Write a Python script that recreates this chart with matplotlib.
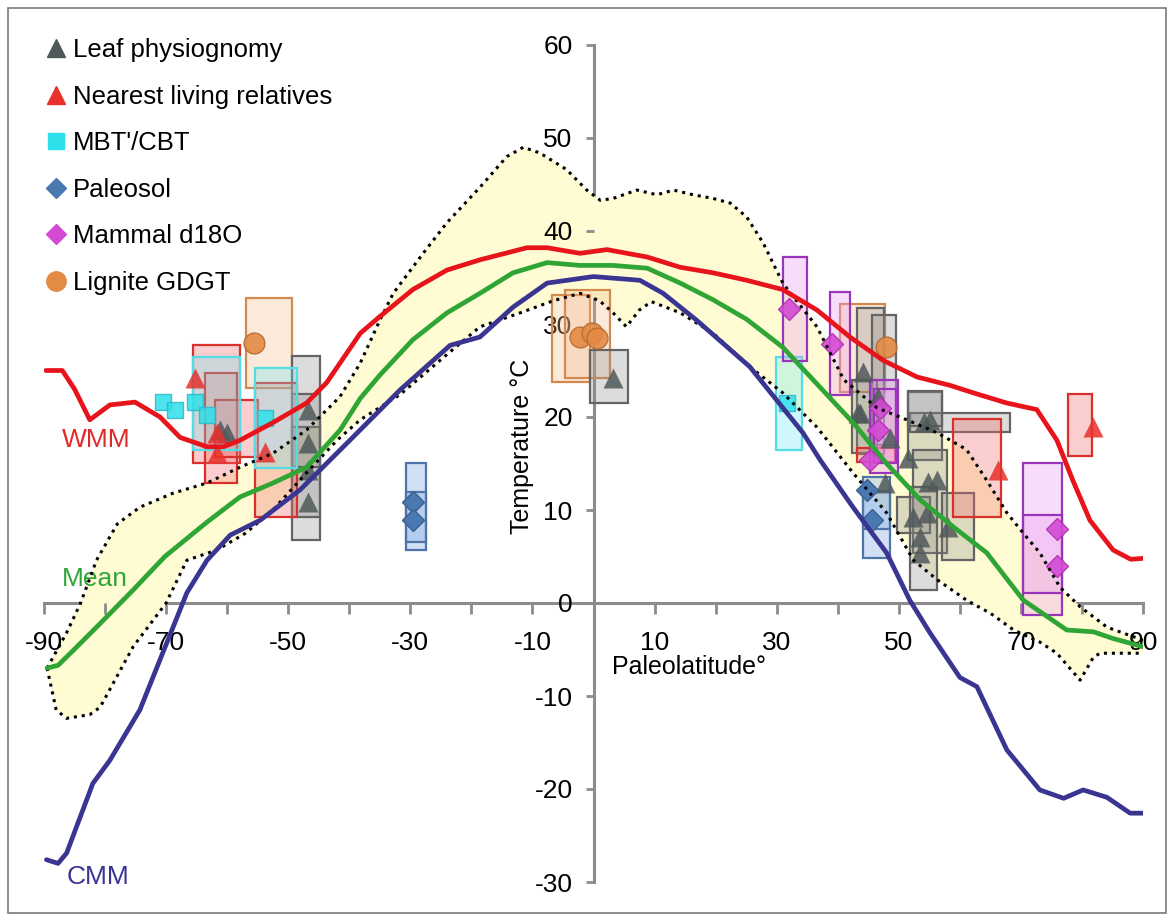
import numpy as np
import matplotlib
matplotlib.use("Agg")
import matplotlib.pyplot as plt
from matplotlib.patches import Rectangle
from matplotlib.lines import Line2D

plt.rcParams['font.family'] = ['Liberation Sans', 'DejaVu Sans']
plt.rcParams['axes.unicode_minus'] = False

# --- model curves (paleolatitude, temperature) ---
wmm_lat = [-89.7, -87, -85, -82.5, -79.2, -75.1, -71, -67.7, -63.3, -60.6, -57.9, -52.5, -47, -43.7,
           -38.2, -35, -29.6, -24, -18.6, -10.9, -7.6, -2.2, 2.2, 8.8, 14.2, 19.6, 25.1, 31, 36.6,
           42, 47.4, 53, 58.4, 62.2, 67.7, 72.6, 75.9, 78.5, 81.3, 85.1, 88, 90]
wmm_t = [25, 25, 23, 19.7, 21.3, 21.6, 20, 17.8, 16.8, 16.8, 17.5, 19.4, 21.5, 23.7,
         29, 30.8, 33.7, 35.8, 36.9, 38.2, 38.2, 37.6, 38, 37.2, 36.1, 35.5, 34.7, 33.7, 31.5,
         28.6, 26.1, 24.3, 23.4, 22.6, 21.5, 20.8, 17.5, 13.2, 8.9, 5.7, 4.7, 4.8]

mean_lat = [-89.5, -87.7, -84.6, -80.8, -75.4, -70.2, -63.3, -57.9, -52.5, -47, -41.5, -38.2, -35,
            -29.6, -24, -18.6, -13.2, -7.6, -2.2, 3.2, 8.8, 14.2, 19.6, 25.1, 31, 37.1, 42.5, 48,
            53.5, 58.9, 64.4, 70.4, 77.5, 81.9, 85, 90]
mean_t = [-7, -6.7, -4.7, -2.2, 1.4, 5, 8.7, 11.4, 12.9, 14.6, 18.6, 22, 24.5,
          28.3, 31.2, 33.3, 35.5, 36.6, 36.3, 36.3, 36, 34.4, 32.6, 30.5, 27.5, 23.2, 19.4, 15,
          11.1, 8.2, 5.4, 0.3, -2.9, -3.1, -3.8, -4.7]

cmm_lat = [-89.6, -87.7, -86.3, -82, -79.2, -74.3, -69.9, -66.6, -63.3, -59.5, -54.6, -48, -39.9,
           -31.7, -23.5, -18.6, -13.2, -7.6, 0, 7.6, 11.4, 16.9, 25.6, 34.3, 37.1, 42.5, 48, 51.8,
           55.1, 60, 62.8, 67.7, 73.1, 77, 80.2, 84.1, 87.9, 90]
cmm_t = [-27.6, -28, -26.9, -19.4, -16.9, -11.5, -4.3, 1.1, 4.6, 7.3, 8.9, 12.2, 17.5,
         22.9, 27.7, 28.6, 31.8, 34.4, 35.1, 34.7, 33.3, 30.4, 25.4, 18.3, 15.4, 10.3, 5.4, 0.3,
         -3.2, -8, -9, -15.8, -20.1, -21, -20.1, -20.9, -22.6, -22.6]

# model range envelope
upper_lat = [-89.5, -86.3, -84, -81.4, -78, -74.3, -68.9, -63.3, -57.9, -52.5, -47, -41.5, -38.2,
             -35, -32.8, -27.9, -24, -18.6, -14.2, -11.5, -8.8, -4.4, -1.1, 1.1, 3.2, 7.1, 10.4,
             13.1, 16.3, 19.6, 22.4, 25.1, 27.8, 31, 36.6, 41, 46.4, 51.3, 56.3, 61.1, 64.4, 67.7,
             70.4, 73.1, 76.4, 79.7, 84.1, 90]
upper_t = [-7, -3.2, 0, 4.6, 8.5, 10.3, 11.8, 12.9, 14.6, 16.1, 18.6, 22.2, 25.8,
           30.4, 33.3, 37.6, 40.9, 44.7, 48, 49, 48.4, 46.6, 44.4, 43.3, 43.5, 44.4, 43.9,
           44.4, 43.9, 43.5, 43, 41.5, 38.7, 34.4, 29.7, 24, 21, 19.7, 18.3, 16.5, 13.2, 9.7,
           7.5, 5.4, 1.7, -0.4, -2.6, -4]
lower_lat = [-89.5, -88, -86.3, -82.5, -80.8, -75.4, -70, -66.6, -61.7, -57, -52.5, -47, -42,
             -38.2, -31.7, -23.5, -18.6, -12, -6.6, -2.2, 1, 3.2, 5.4, 7.5, 9.5, 14.2, 19.6,
             25.6, 31, 36.6, 42.5, 48, 52.4, 56.3, 61.1, 65, 68.8, 73.1, 75.9, 79.7, 81.9, 83, 90]
lower_t = [-7, -11.5, -12.4, -12, -11.2, -4.7, 0, 4.6, 5.7, 7.5, 10, 14, 17.5,
           19.7, 22.4, 27, 29.7, 31.2, 32.5, 33.3, 32.5, 31.2, 29.7, 31.5, 32.4, 31.2, 29,
           25.4, 22.6, 18.9, 14, 9.7, 4.6, 2.5, 0.3, -1.1, -2.9, -4.2, -5.4, -8.3, -5.8, -5.4, -5.4]

# --- proxy estimates: boxes (lat_lo, lat_hi, t_lo, t_hi) and points ---
leaf_boxes = [(-49.4, -44.8, 6.8, 26.6), (-49.4, -44.8, 9.2, 18.9), (-49.4, -44.8, 14.6, 22.5),
              (-0.6, 5.6, 21.5, 27.2), (43.1, 47.6, 16, 31.7), (45.6, 49.5, 17, 31),
              (42.3, 46.4, 16.1, 24), (51.5, 57.1, 15.4, 22.7), (52.3, 57.9, 5.4, 16.5),
              (49.7, 55.1, 7.5, 11.4), (57.1, 62.3, 4.6, 11.8), (51.8, 56.3, 1.4, 12.5),
              (51.8, 68.2, 18.4, 20.4), (51.5, 57.1, 19, 22.8)]
leaf_lat = [-61.2, -60, -46.8, -46.8, -46.8, -46.8, 3.2, 44.2, 43.7, 46.6, 54.2, 48.6, 47.8,
            51.5, 54.8, 56.3, 52.4, 53.5, 53.5, 58.1, 54.6, 43.3, 55.1]
leaf_t = [18.6, 18.3, 20.8, 17.2, 14.3, 10.9, 24.2, 24.8, 20.4, 22.2, 19.5, 17.7, 12.9,
          15.6, 13, 13.2, 9.2, 7.1, 5.4, 8.2, 9.7, 20.4, 19.7]

nlr_boxes = [(-65.6, -57.9, 15, 27.7), (-63.6, -58.4, 12.9, 24.7), (-62, -55, 15.7, 21.8),
             (-55.4, -48.6, 9.2, 23.7), (43.1, 49.4, 15.2, 16.7), (58.9, 66.8, 9.2, 19.8),
             (77.7, 81.7, 15.8, 22.5)]
nlr_lat = [-65.3, -61.7, -61.7, -53.8, 66.3, 81.8]
nlr_t = [24.2, 18.3, 16.1, 16.2, 14.3, 18.9]

mbt_boxes = [(-65.6, -57.9, 16.5, 26.5), (-55.4, -48.6, 14.5, 25.3), (29.9, 34.2, 16.5, 26.5)]
mbt_lat = [-70.5, -68.5, -65.3, -63.3, -53.8, 31.7]
mbt_t = [21.6, 20.8, 21.6, 20.2, 19.9, 21.5]

paleosol_boxes = [(-30.7, -27.5, 5.7, 15.1), (-30.7, -27.5, 6.6, 11.9),
                  (44.1, 48.6, 4.8, 13.5), (44.1, 48.6, 8, 12)]
paleosol_lat = [-29.5, -29.5, 45.6, 44.8]
paleosol_t = [10.9, 8.9, 8.9, 12.2]

mammal_boxes = [(31, 35, 26, 37.2), (38.7, 42, 22.4, 33.4), (45.3, 49.9, 14, 24),
                (46, 49.5, 15, 23), (70.4, 76.8, -1.3, 15), (70.4, 76.8, 1.1, 9.5)]
mammal_lat = [32, 39, 46.6, 45.3, 75.9, 75.9, 47]
mammal_t = [31.6, 27.8, 18.6, 15.4, 8, 4, 21]

lignite_boxes = [(-56.9, -49.4, 23.1, 32.8), (-6.8, -0.6, 23.8, 33.1), (-4.7, 2.7, 24.2, 33.7),
                 (40.4, 47.8, 22.7, 32.2)]
lignite_lat = [-55.6, -2.2, -0.3, 0.6, 47.9]
lignite_t = [28, 28.6, 29, 28.5, 27.5]

fig = plt.figure(figsize=(11.74, 9.15), dpi=100)
ax = fig.add_axes([44 / 1174, 1 - 882 / 915, 1099 / 1174, 837 / 915])
ax.set_xlim(-90, 90)
ax.set_ylim(-30, 60)

# border round the whole figure
fig.patches.append(Rectangle((8 / 1174, 2 / 915), 1158 / 1174, 905 / 915, transform=fig.transFigure,
                             fill=False, edgecolor='#7a7a7a', lw=1.2))

# envelope
env_x = np.concatenate([upper_lat, lower_lat[::-1]])
env_y = np.concatenate([upper_t, lower_t[::-1]])
ax.fill(env_x, env_y, facecolor='#fffcd4', edgecolor='none', zorder=1)
dots = (0, (1.0, 1.6))
ax.plot(upper_lat, upper_t, color='black', lw=2.2, ls=dots, zorder=5)
ax.plot(lower_lat, lower_t, color='black', lw=2.2, ls=dots, zorder=5)


def draw_boxes(boxes, face, edge):
    for lo, hi, tlo, thi in boxes:
        ax.add_patch(Rectangle((lo, tlo), hi - lo, thi - tlo, facecolor=face,
                               edgecolor=edge, lw=1.6, zorder=2))


draw_boxes(lignite_boxes, (0.96, 0.72, 0.52, 0.3), '#d28a50')
draw_boxes(leaf_boxes, (0.55, 0.55, 0.55, 0.3), '#646464')
draw_boxes(nlr_boxes, (0.95, 0.42, 0.42, 0.33), '#d9302b')
draw_boxes(mbt_boxes, (0.4, 0.9, 0.95, 0.3), '#55dde6')
draw_boxes(paleosol_boxes, (0.55, 0.7, 0.9, 0.4), '#4f74a8')
draw_boxes(mammal_boxes, (0.92, 0.6, 0.95, 0.33), '#9a35bb')

ax.plot(leaf_lat, leaf_t, '^', color='#50595a', alpha=0.85, ms=15, mec='none', zorder=3)
ax.plot(nlr_lat, nlr_t, '^', color='#e8302c', alpha=0.85, ms=15, mec='none', zorder=3)
ax.plot(mbt_lat, mbt_t, 's', color='#2ee0ea', alpha=0.85, ms=12, mec='#2ab8c8', zorder=3)
ax.plot(paleosol_lat, paleosol_t, 'D', color='#4a78b0', ms=11, mec='#3a5f90', zorder=3)
ax.plot(mammal_lat, mammal_t, 'D', color='#d44ad4', ms=11, mec='#b030b0', alpha=0.9, zorder=3)
ax.plot(lignite_lat, lignite_t, 'o', color='#e38b45', ms=15, mec='#b86a30', alpha=0.9, zorder=3)

# model curves
curve_kw = dict(lw=3.4, zorder=6, solid_joinstyle='round', solid_capstyle='round')
ax.plot(wmm_lat, wmm_t, color='#e8141b', **curve_kw)
ax.plot(mean_lat, mean_t, color='#2fa535', **curve_kw)
ax.plot(cmm_lat, cmm_t, color='#3b3592', **curve_kw)

ax.text(-87, 17.5, 'WMM', color='#e02a2a', fontsize=19, va='center', ha='left')
ax.text(-87, 2.6, 'Mean', color='#2fa535', fontsize=19, va='center', ha='left')
ax.text(-86.3, -29.5, 'CMM', color='#3b3592', fontsize=19, va='center', ha='left')

# axes through the origin
for side in ['top', 'right']:
    ax.spines[side].set_visible(False)
ax.spines['left'].set_position(('data', 0))
ax.spines['bottom'].set_position(('data', 0))
for side in ['left', 'bottom']:
    ax.spines[side].set_color('#8c8c8c')
    ax.spines[side].set_linewidth(2.2)
    ax.spines[side].set_zorder(0.5)
ax.patch.set_visible(False)

ax.set_xticks(np.arange(-90, 91, 20))
ax.set_xticks(np.arange(-80, 81, 20), minor=True)
ax.set_yticks(np.arange(-30, 61, 10))
ax.tick_params(axis='x', which='both', direction='out', length=8, width=2, color='#8c8c8c')
ax.tick_params(axis='x', which='major', labelsize=19, pad=12)
ax.tick_params(axis='y', direction='out', length=6, width=2, color='#8c8c8c',
               labelsize=19, pad=9)

ax.text(-11.7, 16.8, 'Temperature °C', rotation=90, fontsize=18, ha='center', va='center')
ax.text(15.6, -6.9, 'Paleolatitude°', fontsize=18, ha='center', va='center')

handles = [
    Line2D([], [], ls='none', marker='^', color='#50595a', ms=13),
    Line2D([], [], ls='none', marker='^', color='#e8302c', ms=13),
    Line2D([], [], ls='none', marker='s', color='#2ee0ea', ms=12),
    Line2D([], [], ls='none', marker='D', color='#4a78b0', ms=10),
    Line2D([], [], ls='none', marker='D', color='#d44ad4', ms=10),
    Line2D([], [], ls='none', marker='o', color='#e38b45', ms=14),
]
labels = ['Leaf physiognomy', 'Nearest living relatives', "MBT'/CBT", 'Paleosol',
          'Mammal d18O', 'Lignite GDGT']
fig.legend(handles, labels, loc='upper left', bbox_to_anchor=(46 / 1174, 1 - 38 / 915),
           frameon=False, fontsize=18.5, handlelength=0.8, handletextpad=0.25,
           labelspacing=0.88, borderpad=0, borderaxespad=0)

fig.savefig('out.png', dpi=100)
